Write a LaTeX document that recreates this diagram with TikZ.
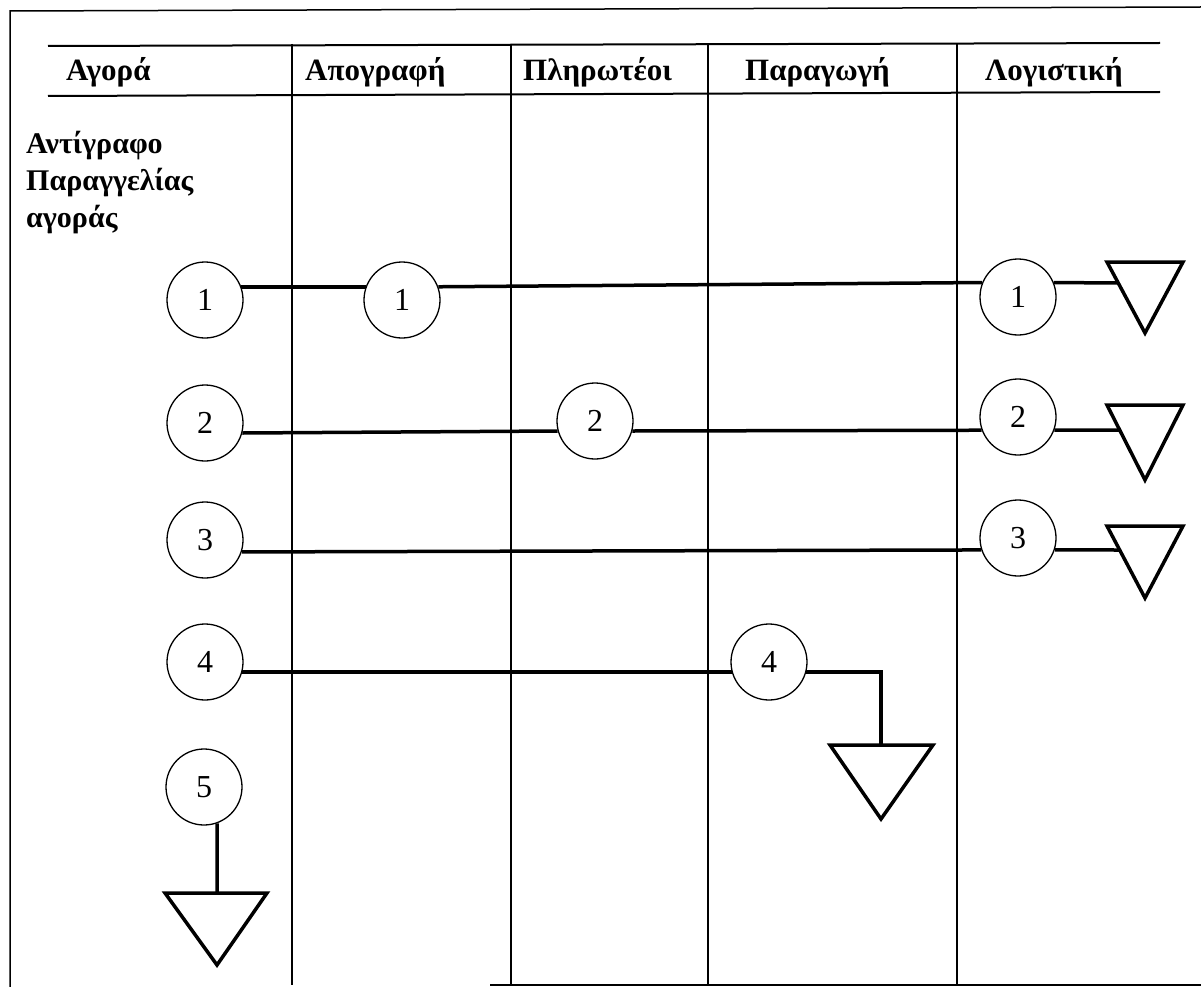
\documentclass[tikz,border=0pt]{standalone}
\usepackage{fontspec}
\setmainfont{Liberation Serif}
\begin{document}
\begin{tikzpicture}[x=1pt,y=-1pt,
  circ/.style={circle,draw,line width=1.3pt,minimum size=76pt,inner sep=0pt,font=\fontsize{32}{32}\selectfont},
  conn/.style={line width=3.5pt},
  tri/.style={line width=3.5pt,line join=miter},
  col/.style={line width=2pt},
  frame/.style={line width=1.5pt},
  head/.style={anchor=base west,inner sep=0pt,font=\bfseries\fontsize{31}{31}\selectfont},
  side/.style={anchor=north west,inner sep=0pt,align=left,font=\bfseries\fontsize{30}{37}\selectfont}]
\useasboundingbox (0,0) rectangle (1201,987);
% frame and table
\draw[frame] (10,987) -- (10,11) -- (1201,7);
\draw[col] (48,46) -- (1160,43);
\draw[col] (48,96) -- (1160,92);
\foreach \x in {292,511,708,957} \draw[col] (\x,44) -- (\x,985);
\draw[frame] (490,985) -- (1201,985);
% headers
\node[head] (h1) at (66,81) {Αγορά};
\node[head] (h2) at (305,81) {Απογραφή};
\node[head] (h3) at (523,81) {Πληρωτέοι};
\node[head] (h4) at (745,81) {Παραγωγή};
\node[head] (h5) at (985,81) {Λογιστική};
\node[side] (doc) at (26,131) {Αντίγραφο\\Παραγγελίας\\αγοράς};
% circles
\node[circ] (a1) at (205,300) {1};
\node[circ] (b1) at (402,300) {1};
\node[circ] (c1) at (1018,297) {1};
\node[circ] (a2) at (205,423) {2};
\node[circ] (b2) at (595,421) {2};
\node[circ] (c2) at (1018,417) {2};
\node[circ] (a3) at (205,540) {3};
\node[circ] (c3) at (1018,538) {3};
\node[circ] (a4) at (205,662) {4};
\node[circ] (b4) at (769,662) {4};
\node[circ] (a5) at (204,787) {5};
% triangles
\draw[tri] (1107,262) -- (1183,262) -- (1145,333) -- cycle;
\coordinate (t1) at (1118,283);
\draw[tri] (1107,405) -- (1183,405) -- (1145,480) -- cycle;
\coordinate (t2) at (1120,430);
\draw[tri] (1107,526) -- (1183,526) -- (1145,598) -- cycle;
\coordinate (t3) at (1120,550);
\draw[tri] (830,745) -- (933,745) -- (881,819) -- cycle;
\coordinate (t4) at (881,745);
\draw[tri] (165,893) -- (267,893) -- (217,965) -- cycle;
\coordinate (t5) at (217,893);
% connectors
\draw[conn] (a1.20) -- (b1.160);
\draw[conn] (b1.20) -- (c1.158);
\draw[conn] (c1.22) -- (t1);
\draw[conn] (a2.-15) -- (b2.195);
\draw[conn] (b2.-15) -- (c2.200);
\draw[conn] (c2.-20) -- (t2);
\draw[conn] (a3.-18) -- (c3.198);
\draw[conn] (c3.-18) -- (t3);
\draw[conn] (a4.-15) -- (b4.195);
\draw[conn] (b4.-15) -| (t4);
\draw[conn] (a5.-70) -- (t5);
\end{tikzpicture}
\end{document}
